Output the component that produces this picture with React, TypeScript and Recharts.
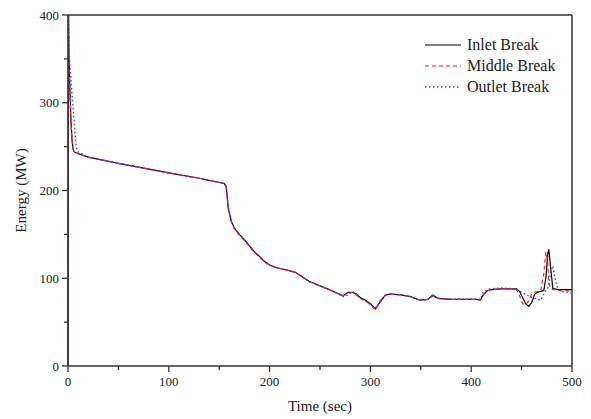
import { LineChart, Line, XAxis, YAxis, ReferenceLine } from "recharts";

// shared time base (sec)
const time = [
  0, 0.5, 1, 2, 3, 4, 5, 6, 8, 10, 20, 50, 100, 130, 155, 157, 159, 162, 165, 170, 175, 180, 185, 190, 195,
  200, 207, 215, 225, 240, 255, 265, 273, 278, 282, 286, 290, 295, 300, 305, 310, 315, 320, 330, 340,
  349, 357, 362, 367, 380, 395, 405, 409, 412, 416, 420, 430, 440, 445, 448, 451, 454, 457, 460, 463,
  466, 469, 472, 474, 476, 477, 479, 481, 483, 486, 490, 500,
];

const inlet = [
  0, 400, 350, 312, 278, 258, 248, 244, 243, 242, 238, 231, 220, 214, 208, 204, 180, 165, 157, 150, 144, 137, 130, 125, 119,
  115, 112, 110, 107, 96, 89, 84, 80, 84, 84, 82, 78, 75, 71, 65, 74, 81, 82, 81, 79,
  75, 76, 81, 77, 76, 76, 76, 75, 81, 86, 87, 88, 88, 88, 85, 78, 71, 68, 72, 82,
  84, 85, 86, 100, 128, 133, 110, 88, 88, 87, 87, 87,
];

const middle = [
  0, 400, 345, 308, 275, 256, 247, 244, 243, 242, 238, 231, 220, 214, 208, 203, 179, 164, 156, 149, 143, 136, 129, 124, 118,
  115, 112, 110, 107, 96, 89, 84, 80, 83, 84, 81, 77, 74, 70, 64, 75, 81, 82, 81, 79,
  75, 76, 80, 77, 76, 76, 76, 75, 81, 86, 87, 88, 88, 87, 80, 71, 70, 74, 82, 84,
  85, 86, 105, 130, 118, 95, 88, 87, 87, 86, 86, 86,
];

const outlet = [
  0, 400, 362, 340, 325, 310, 295, 280, 250, 244, 238, 231, 220, 214, 208, 205, 182, 166, 157, 150, 144, 137, 130, 125, 119,
  115, 112, 110, 107, 96, 89, 84, 79, 81, 85, 82, 77, 74, 70, 66, 73, 80, 82, 81, 79,
  75, 76, 80, 77, 76, 76, 76, 76, 84, 87, 88, 89, 88, 87, 86, 83, 82, 80, 78, 77,
  76, 75, 82, 86, 89, 95, 108, 114, 100, 88, 85, 83,
];

const yTicks = [0, 50, 100, 150, 200, 250, 300, 350, 400];
const xTicks = [0, 50, 100, 150, 200, 250, 300, 350, 400, 450, 500];

const series = [
  { key: "inlet", name: "Inlet Break", color: "#000000", dash: undefined, width: 1.2 },
  { key: "middle", name: "Middle Break", color: "#ff2020", dash: "4 3", width: 1.2 },
  { key: "outlet", name: "Outlet Break", color: "#4040ff", dash: "1.5 2.5", width: 1.4 },
];

const data = time.map((t, i) => ({ t, inlet: inlet[i], middle: middle[i], outlet: outlet[i] }));

const FONT = "'Liberation Serif', 'Times New Roman', serif";
const AXIS = "#333";

function YTick({ x, y, payload }: any) {
  const major = payload.value % 100 === 0;
  return (
    <g>
      <line x1={x} x2={x - (major ? 6 : 4)} y1={y} y2={y} stroke={AXIS} strokeWidth={1.3} />
      {major && (
        <text x={x - 9} y={y + 4.5} textAnchor="end" fontSize={13} fontFamily={FONT} fill="#222">
          {payload.value}
        </text>
      )}
    </g>
  );
}

function XTick({ x, y, payload }: any) {
  const major = payload.value % 100 === 0;
  return (
    <g>
      <line x1={x} x2={x} y1={y} y2={y + (major ? 6 : 4)} stroke={AXIS} strokeWidth={1.3} />
      {major && (
        <text x={x} y={y + 20} textAnchor="middle" fontSize={13} fontFamily={FONT} fill="#222">
          {payload.value}
        </text>
      )}
    </g>
  );
}

function LegendBox() {
  return (
    <svg width={150} height={70} style={{ display: "block" }}>
      {series.map((s, i) => (
        <g key={s.key}>
          <line
            x1={5}
            x2={41}
            y1={10 + i * 21}
            y2={10 + i * 21}
            stroke={s.color}
            strokeWidth={s.width}
            strokeDasharray={s.dash}
          />
          <text x={47} y={15 + i * 21} fontSize={16} fontFamily={FONT} fill="#222">
            {s.name}
          </text>
        </g>
      ))}
    </svg>
  );
}

export default function App() {
  return (
    <div style={{ position: "absolute", left: 0, top: 0, width: 591, height: 419, background: "#fff" }}>
      <LineChart width={591} height={419} data={data} margin={{ top: 15, right: 19, bottom: 0, left: 0 }}>
        <XAxis
          dataKey="t"
          type="number"
          domain={[0, 500]}
          ticks={xTicks}
          interval={0}
          height={53}
          tickSize={0}
          tickMargin={0}
          tickLine={false}
          tick={<XTick />}
          stroke={AXIS}
          strokeWidth={1.5}
          label={(p: any) => {
            const vb = p.viewBox;
            return (
              <text x={vb.x + vb.width / 2} y={vb.y + 45} textAnchor="middle" fontSize={15} fontFamily={FONT} fill="#222">
                Time (sec)
              </text>
            );
          }}
        />
        <YAxis
          type="number"
          domain={[0, 400]}
          ticks={yTicks}
          interval={0}
          width={68}
          tickSize={0}
          tickMargin={0}
          tickLine={false}
          tick={<YTick />}
          stroke={AXIS}
          strokeWidth={1.5}
          label={(p: any) => {
            const vb = p.viewBox;
            const cx = 21;
            const cy = vb.y + vb.height / 2;
            return (
              <text x={cx} y={cy} transform={`rotate(-90, ${cx}, ${cy})`} textAnchor="middle" dominantBaseline="central" fontSize={15} fontFamily={FONT} fill="#222">
                Energy (MW)
              </text>
            );
          }}
        />
        <ReferenceLine y={400} stroke={AXIS} strokeWidth={1.5} />
        <ReferenceLine x={500} stroke={AXIS} strokeWidth={1.5} />
        {series.map((s) => (
          <Line
            key={s.key}
            dataKey={s.key}
            name={s.name}
            stroke={s.color}
            strokeWidth={s.width}
            strokeDasharray={s.dash}
            dot={false}
            activeDot={false}
            type="linear"
            isAnimationActive={false}
          />
        ))}
      </LineChart>
      <div style={{ position: "absolute", left: 420, top: 35 }}>
        <LegendBox />
      </div>
    </div>
  );
}
